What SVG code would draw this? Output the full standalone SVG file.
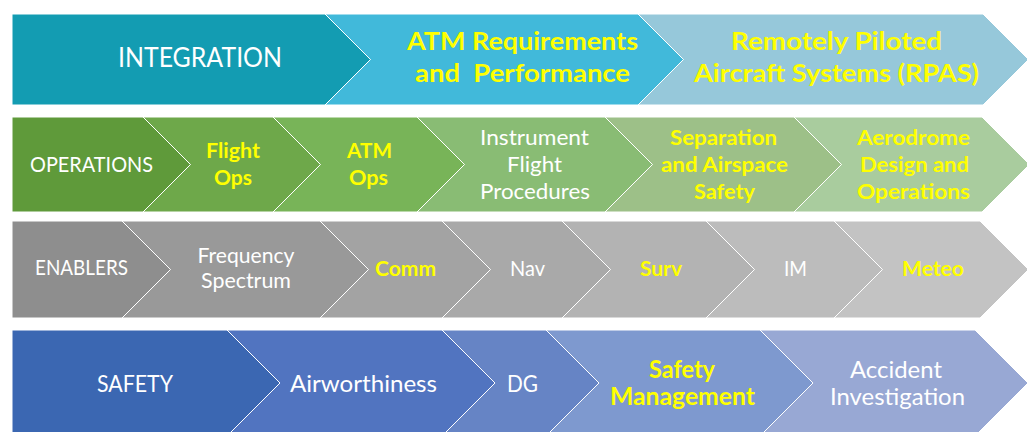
<svg xmlns="http://www.w3.org/2000/svg" width="1027" height="432" viewBox="0 0 1027 432">
<style>
polygon{stroke:#ffffff;stroke-width:1;stroke-linejoin:miter}
text{font-family:Lato,"Open Sans","Liberation Sans",sans-serif;text-anchor:middle}
.w{fill:#ffffff;font-weight:400}
.y{fill:#ffff00;font-weight:700}
.r1{font-size:24.5px}
.r1b{font-size:26px}
.r2{font-size:21.5px}
.r3{font-size:20.5px}
.r4{font-size:24px}
</style>
<rect width="1027" height="432" fill="#ffffff"/>
<g id="row-integration">
<g id="integration">
<polygon points="12,14 325,14 370.5,59.5 325,105 12,105" fill="#139cb2"/>
<text class="w r1b" x="200" y="67" textLength="164" lengthAdjust="spacingAndGlyphs">INTEGRATION</text>
</g>
<g id="atm-requirements">
<polygon points="325,14 638,14 683.5,59.5 638,105 325,105 370.5,59.5" fill="#41b9da"/>
<text class="y r1" x="522.5" y="50" textLength="231" lengthAdjust="spacingAndGlyphs">ATM Requirements</text>
<text class="y r1" x="522.5" y="81.5" textLength="215" lengthAdjust="spacingAndGlyphs" xml:space="preserve">and  Performance</text>
</g>
<g id="rpas">
<polygon points="638,14 983,14 1028.5,59.5 983,105 638,105 683.5,59.5" fill="#96c8da"/>
<text class="y r1" x="836.5" y="50" textLength="211" lengthAdjust="spacingAndGlyphs">Remotely Piloted</text>
<text class="y r1" x="836.5" y="81.5" textLength="285" lengthAdjust="spacingAndGlyphs">Aircraft Systems (RPAS)</text>
</g>
</g>
<g id="row-operations">
<g id="operations">
<polygon points="12,117 143,117 190.5,164.5 143,212 12,212" fill="#5f9a3a"/>
<text class="w r2" x="91.5" y="172" textLength="123" lengthAdjust="spacingAndGlyphs">OPERATIONS</text>
</g>
<g id="flight-ops">
<polygon points="143,117 273,117 320.5,164.5 273,212 143,212 190.5,164.5" fill="#6ea84a"/>
<text class="y r2" x="233" y="158" textLength="54" lengthAdjust="spacingAndGlyphs">Flight</text>
<text class="y r2" x="233" y="184.5" textLength="38" lengthAdjust="spacingAndGlyphs">Ops</text>
</g>
<g id="atm-ops">
<polygon points="273,117 417,117 464.5,164.5 417,212 273,212 320.5,164.5" fill="#78b458"/>
<text class="y r2" x="369.5" y="158" textLength="45" lengthAdjust="spacingAndGlyphs">ATM</text>
<text class="y r2" x="368.5" y="184.5" textLength="39" lengthAdjust="spacingAndGlyphs">Ops</text>
</g>
<g id="instrument-flight-procedures">
<polygon points="417,117 605,117 652.5,164.5 605,212 417,212 464.5,164.5" fill="#89bc74"/>
<text class="w r2" x="534.5" y="145" textLength="109" lengthAdjust="spacingAndGlyphs">Instrument</text>
<text class="w r2" x="534.5" y="172" textLength="55" lengthAdjust="spacingAndGlyphs">Flight</text>
<text class="w r2" x="535" y="199" textLength="110" lengthAdjust="spacingAndGlyphs">Procedures</text>
</g>
<g id="separation-airspace-safety">
<polygon points="605,117 794,117 841.5,164.5 794,212 605,212 652.5,164.5" fill="#9dc088"/>
<text class="y r2" x="723.5" y="145" textLength="107" lengthAdjust="spacingAndGlyphs">Separation</text>
<text class="y r2" x="724.5" y="172" textLength="127" lengthAdjust="spacingAndGlyphs">and Airspace</text>
<text class="y r2" x="724.5" y="199" textLength="61" lengthAdjust="spacingAndGlyphs">Safety</text>
</g>
<g id="aerodrome-design-operations">
<polygon points="794,117 982,117 1029.5,164.5 982,212 794,212 841.5,164.5" fill="#a9cc9e"/>
<text class="y r2" x="913.5" y="145" textLength="113" lengthAdjust="spacingAndGlyphs">Aerodrome</text>
<text class="y r2" x="914.5" y="172" textLength="109" lengthAdjust="spacingAndGlyphs">Design and</text>
<text class="y r2" x="913.5" y="199" textLength="113" lengthAdjust="spacingAndGlyphs">Operations</text>
</g>
</g>
<g id="row-enablers">
<g id="enablers">
<polygon points="12,221 122,221 170.5,269.5 122,318 12,318" fill="#8e8e8e"/>
<text class="w r3" x="81.5" y="275" textLength="93" lengthAdjust="spacingAndGlyphs">ENABLERS</text>
</g>
<g id="frequency-spectrum">
<polygon points="122,221 320,221 368.5,269.5 320,318 122,318 170.5,269.5" fill="#999999"/>
<text class="w r3" x="246" y="263" textLength="97" lengthAdjust="spacingAndGlyphs">Frequency</text>
<text class="w r3" x="246" y="288" textLength="90" lengthAdjust="spacingAndGlyphs">Spectrum</text>
</g>
<g id="comm">
<polygon points="320,221 442,221 490.5,269.5 442,318 320,318 368.5,269.5" fill="#a3a3a3"/>
<text class="y r3" x="405.5" y="276" textLength="61" lengthAdjust="spacingAndGlyphs">Comm</text>
</g>
<g id="nav">
<polygon points="442,221 562,221 610.5,269.5 562,318 442,318 490.5,269.5" fill="#a9a9a9"/>
<text class="w r3" x="527.5" y="276" textLength="35" lengthAdjust="spacingAndGlyphs">Nav</text>
</g>
<g id="surv">
<polygon points="562,221 706,221 754.5,269.5 706,318 562,318 610.5,269.5" fill="#b3b3b3"/>
<text class="y r3" x="661" y="276" textLength="42" lengthAdjust="spacingAndGlyphs">Surv</text>
</g>
<g id="im">
<polygon points="706,221 834,221 882.5,269.5 834,318 706,318 754.5,269.5" fill="#bcbcbc"/>
<text class="w r3" x="795.5" y="276" textLength="23" lengthAdjust="spacingAndGlyphs">IM</text>
</g>
<g id="meteo">
<polygon points="834,221 980,221 1028.5,269.5 980,318 834,318 882.5,269.5" fill="#c3c3c3"/>
<text class="y r3" x="933" y="276" textLength="62" lengthAdjust="spacingAndGlyphs">Meteo</text>
</g>
</g>
<g id="row-safety">
<g id="safety">
<polygon points="12,330 227,330 280,383 227,436 12,436" fill="#3b67b2"/>
<text class="w r4" x="135" y="392" textLength="76" lengthAdjust="spacingAndGlyphs">SAFETY</text>
</g>
<g id="airworthiness">
<polygon points="227,330 442,330 495,383 442,436 227,436 280,383" fill="#5174c0"/>
<text class="w r4" x="363.5" y="392" textLength="147" lengthAdjust="spacingAndGlyphs">Airworthiness</text>
</g>
<g id="dg">
<polygon points="442,330 546,330 599,383 546,436 442,436 495,383" fill="#6684c5"/>
<text class="w r4" x="522.5" y="392" textLength="31" lengthAdjust="spacingAndGlyphs">DG</text>
</g>
<g id="safety-management">
<polygon points="546,330 760,330 813,383 760,436 546,436 599,383" fill="#7e99cf"/>
<text class="y r4" x="682" y="378" textLength="66" lengthAdjust="spacingAndGlyphs">Safety</text>
<text class="y r4" x="682.5" y="405" textLength="145" lengthAdjust="spacingAndGlyphs">Management</text>
</g>
<g id="accident-investigation">
<polygon points="760,330 975,330 1028,383 975,436 760,436 813,383" fill="#98a8d4"/>
<text class="w r4" x="896" y="378" textLength="92" lengthAdjust="spacingAndGlyphs">Accident</text>
<text class="w r4" x="897.5" y="405" textLength="135" lengthAdjust="spacingAndGlyphs">Investigation</text>
</g>
</g>
</svg>
